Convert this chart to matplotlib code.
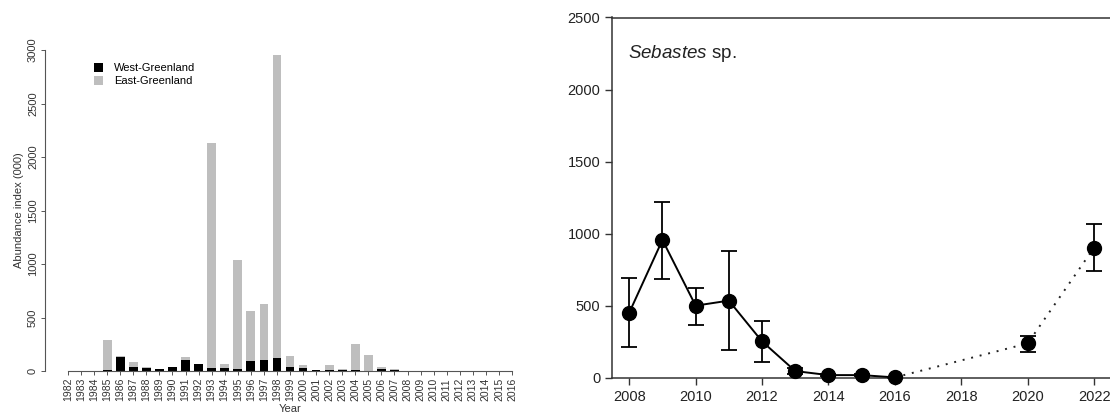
import matplotlib.pyplot as plt
import numpy as np

plt.rcParams['font.family'] = ['Liberation Sans', 'DejaVu Sans']
plt.rcParams['mathtext.fontset'] = 'custom'
plt.rcParams['mathtext.it'] = 'Liberation Sans:italic'
plt.rcParams['mathtext.rm'] = 'Liberation Sans'

# left panel: abundance index by year
years = np.arange(1982, 2017)
west = [0, 0, 0, 8, 135, 35, 28, 15, 34, 100, 62, 31, 25, 15, 97, 100, 125,
        40, 31, 5, 6, 6, 12, 0, 19, 12, 2, 1, 0, 0, 0, 0, 0, 0, 0]
east = [0, 0, 0, 282, 3, 49, 6, 1, 1, 28, 1, 2102, 37, 1020, 461, 527, 2825,
        97, 22, 3, 53, 13, 244, 150, 21, 3, 2, 2, 1, 1, 1, 0, 0, 0, 0]

# right panel: Sebastes sp. survey index
surv_years = [2008, 2009, 2010, 2011, 2012, 2013, 2014, 2015, 2016, 2020, 2022]
index = [451, 956, 500, 535, 252, 46, 18, 18, 2, 238, 903]
upper = [690, 1222, 625, 877, 391, 70, 25, 25, 5, 292, 1067]
lower = [211, 685, 368, 190, 109, 25, 10, 10, 0, 178, 738]

W, H = 1110, 416
fig = plt.figure(figsize=(W / 100, H / 100), dpi=100)

# ---- left panel
axl = fig.add_axes([45 / W, (H - 371) / H, (535 - 45) / W, (371 - 50) / H])
axl.bar(years, west, width=0.67, color='black', label='West-Greenland')
axl.bar(years, east, width=0.67, bottom=west, color='#bebebe', label='East-Greenland')
axl.set_xlim(1980.24, 2017.76)
axl.set_ylim(0, 3000)
for s in ['top', 'right']:
    axl.spines[s].set_visible(False)
axl.spines['bottom'].set_bounds(1982, 2016)
axl.spines['left'].set_bounds(0, 3000)
for s in ['left', 'bottom']:
    axl.spines[s].set_color('#555555')
    axl.spines[s].set_linewidth(0.8)
axl.set_xticks(years)
axl.set_xticklabels([str(y) for y in years], rotation=90, fontsize=7.5, color='#333333')
axl.set_yticks(np.arange(0, 3001, 500))
axl.set_yticklabels([str(v) for v in range(0, 3001, 500)], rotation=90, va='center',
                    fontsize=8, color='#333333')
axl.tick_params(length=3, width=0.7, color='#555555', pad=2)
axl.set_ylabel('Abundance index (000)', fontsize=8, color='#333333', labelpad=3)
axl.set_xlabel('Year', fontsize=8, color='#333333', labelpad=2)
axl.legend(loc='upper left', bbox_to_anchor=(0.08, 0.99), frameon=False, fontsize=8,
           handlelength=0.8, handleheight=0.8, handletextpad=1.0, labelspacing=0.25)

# ---- right panel
axr = fig.add_axes([612.3 / W, (H - 377.7) / H, 515 / W, (377.7 - 17.5) / H])
yerr = [np.array(index) - np.array(lower), np.array(upper) - np.array(index)]
axr.errorbar(surv_years, index, yerr=yerr, fmt='none', ecolor='black', elinewidth=1.3,
             capsize=6, capthick=1.3, clip_on=False, zorder=2)
axr.plot(surv_years[:9], index[:9], color='black', lw=1.4, zorder=3, clip_on=False)
axr.plot(surv_years[8:], index[8:], color='#222222', lw=1.4, linestyle=(0, (1, 3.5)),
         zorder=3, clip_on=False)
axr.plot(surv_years, index, 'o', color='black', markersize=10, zorder=4, clip_on=False)
axr.set_xlim(2007.49, 2023)
axr.set_ylim(0, 2500)
axr.set_xticks(np.arange(2008, 2023, 2))
axr.set_yticks(np.arange(0, 2501, 500))
axr.tick_params(direction='out', length=5, width=1, color='#333333', labelsize=10.5,
                labelcolor='#222222')
for s in axr.spines.values():
    s.set_color('#333333')
    s.set_linewidth(1.1)
axr.text(0.03, 0.9, r'$\mathit{Sebastes}$ sp.', transform=axr.transAxes, fontsize=13.5,
         color='#222222', va='center')

fig.savefig('out.png', dpi=100)
